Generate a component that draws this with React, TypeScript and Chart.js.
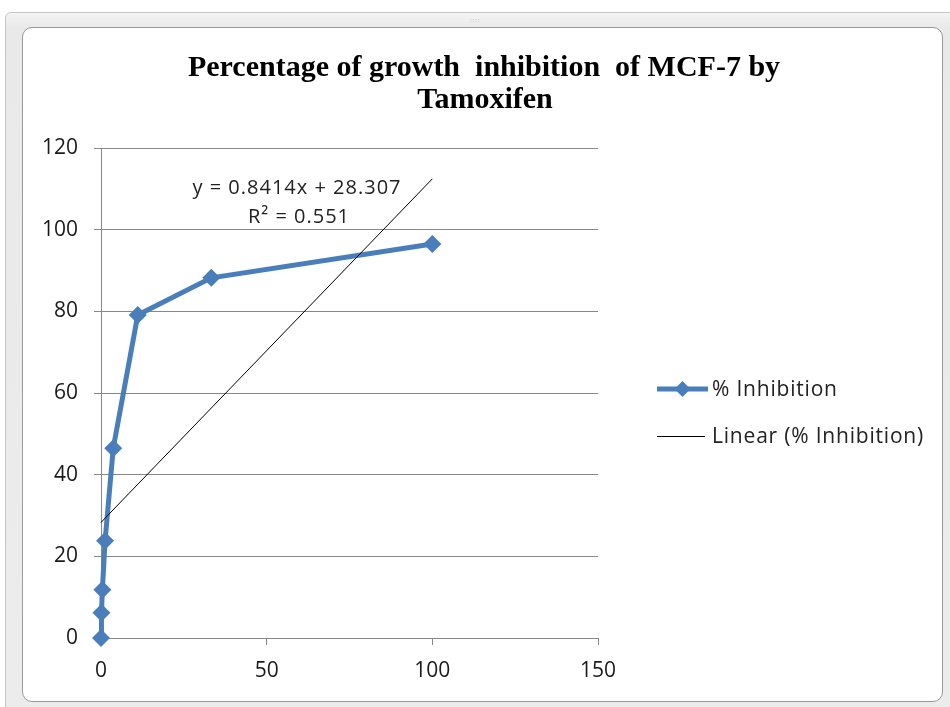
import React, { useEffect, useRef } from "react";
import { Chart, registerables } from "chart.js";

Chart.register(...registerables);

const concentrations = [0, 0.137, 0.41, 1.23, 3.7, 11.1, 33.3, 100];
const inhibition = [0, 6.2, 11.8, 23.8, 46.5, 79.1, 88.2, 96.5];
const trendSlope = 0.8414;
const trendIntercept = 28.307;
const trendRange = [0, 100];
const titleLines = ["Percentage of growth  inhibition  of MCF-7 by", "Tamoxifen"];
const equationLines = ["y = 0.8414x + 28.307", "R² = 0.551"];
const legendLabels = ["% Inhibition", "Linear (% Inhibition)"];

const BLUE = "#4a7ebb";
const GRID = "#888888";
const SANS = "'Open Sans', 'DejaVu Sans', sans-serif";

const overlayPlugin = {
  id: "overlay",
  afterDraw(chart: any) {
    const ctx = chart.ctx as any;
    ctx.save();
    // title
    ctx.fillStyle = "#000";
    ctx.font = "bold 30px 'Liberation Serif', 'Times New Roman', serif";
    ctx.textAlign = "center";
    ctx.textBaseline = "alphabetic";
    ctx.fillText(titleLines[0], 484, 76);
    ctx.fillText(titleLines[1], 485, 108);
    // equation label
    ctx.font = "20px " + SANS;
    ctx.letterSpacing = "1px";
    ctx.fillStyle = "#222";
    ctx.fillText(equationLines[0], 297, 194);
    ctx.fillText(equationLines[1], 299, 223);
    // legend
    const lx0 = 657;
    const lx1 = 708;
    const y1 = 389;
    const y2 = 436;
    ctx.strokeStyle = BLUE;
    ctx.lineWidth = 5;
    ctx.beginPath();
    ctx.moveTo(lx0, y1);
    ctx.lineTo(lx1, y1);
    ctx.stroke();
    ctx.fillStyle = BLUE;
    const cx = (lx0 + lx1) / 2;
    const r = 8;
    ctx.beginPath();
    ctx.moveTo(cx, y1 - r);
    ctx.lineTo(cx + r, y1);
    ctx.lineTo(cx, y1 + r);
    ctx.lineTo(cx - r, y1);
    ctx.closePath();
    ctx.fill();
    ctx.strokeStyle = "#000";
    ctx.lineWidth = 1;
    ctx.beginPath();
    ctx.moveTo(lx0, y2 + 0.5);
    ctx.lineTo(705, y2 + 0.5);
    ctx.stroke();
    ctx.fillStyle = "#222";
    ctx.font = "21px " + SANS;
    ctx.letterSpacing = "0.8px";
    ctx.textAlign = "left";
    ctx.textBaseline = "middle";
    ctx.fillText(legendLabels[0], 712, y1 + 1);
    ctx.fillText(legendLabels[1], 712, y2 + 1);
    ctx.letterSpacing = "0px";
    ctx.restore();
  },
};

export default function App() {
  const ref = useRef<HTMLCanvasElement | null>(null);

  useEffect(() => {
    if (!ref.current) return;
    const points = concentrations.map((c, i) => ({ x: c, y: inhibition[i] }));
    const trend = trendRange.map((x) => ({ x, y: trendSlope * x + trendIntercept }));
    const chart = new Chart(ref.current, {
      type: "scatter",
      data: {
        datasets: [
          {
            label: legendLabels[1],
            data: trend,
            showLine: true,
            borderColor: "#000",
            borderWidth: 1,
            pointRadius: 0,
            clip: false,
          },
          {
            label: legendLabels[0],
            data: points,
            showLine: true,
            borderColor: BLUE,
            backgroundColor: BLUE,
            borderWidth: 5,
            pointStyle: "rectRot",
            pointRadius: 9,
            pointBorderWidth: 0,
            clip: false,
          },
        ],
      },
      options: {
        responsive: false,
        animation: false,
        devicePixelRatio: 1,
        layout: { padding: { left: 41, top: 148, right: 352, bottom: 9 } },
        plugins: {
          legend: { display: false },
          title: { display: false },
          tooltip: { enabled: false },
        },
        scales: {
          x: {
            type: "linear",
            min: 0,
            max: 150,
            afterFit: (s: any) => {
              s.height = 60;
            },
            ticks: {
              stepSize: 50,
              color: "#1a1a1a",
              padding: 13,
              font: { size: 21, family: SANS },
            },
            grid: {
              drawOnChartArea: false,
              drawTicks: true,
              tickLength: 7,
              color: GRID,
            },
            border: { display: true, color: GRID, width: 1 },
          },
          y: {
            type: "linear",
            min: 0,
            max: 120,
            afterFit: (s: any) => {
              s.width = 60;
            },
            ticks: {
              stepSize: 20,
              color: "#1a1a1a",
              padding: 16,
              font: { size: 21, family: SANS },
            },
            grid: {
              drawTicks: true,
              tickLength: 7,
              color: GRID,
            },
            border: { display: true, color: GRID, width: 1 },
          },
        },
      },
      plugins: [overlayPlugin],
    });
    return () => chart.destroy();
  }, []);

  return (
    <div style={{ position: "absolute", left: 0, top: 0, width: 950, height: 707, background: "#fff", overflow: "hidden" }}>
      <div
        style={{
          position: "absolute",
          left: 5,
          top: 12,
          width: 950,
          height: 700,
          background: "linear-gradient(#f4f4f4, #e9e9e9 15px, #ececec)",
          border: "1px solid #c4c4c4",
          borderRadius: "6px 0 0 0",
          boxSizing: "border-box",
        }}
      />
      <div style={{ position: "absolute", left: 470, top: 16, fontSize: 6, color: "#aaa", fontFamily: SANS, letterSpacing: 1 }}>
        ::::
      </div>
      <div
        style={{
          position: "absolute",
          left: 22,
          top: 27,
          width: 921,
          height: 675,
          background: "#fff",
          border: "1px solid #9a9a9a",
          borderRadius: 10,
          boxSizing: "border-box",
        }}
      />
      <canvas ref={ref} width={950} height={707} style={{ position: "absolute", left: 0, top: 0, width: 950, height: 707 }} />
    </div>
  );
}
